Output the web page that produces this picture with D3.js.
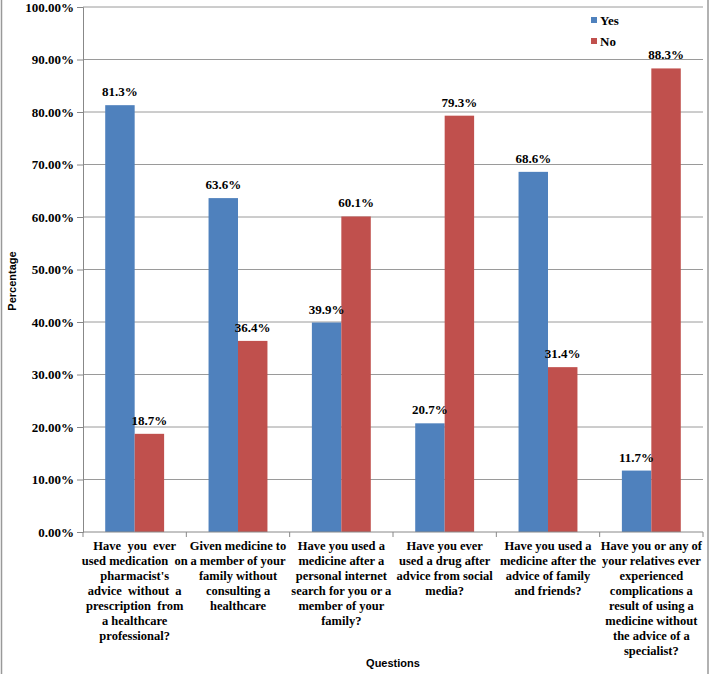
<!DOCTYPE html>
<html><head><meta charset="utf-8">
<script src="https://cdn.jsdelivr.net/npm/d3@7/dist/d3.min.js"></script>
<style>body{margin:0;background:#fff}svg{display:block}
.srf{font-family:"Liberation Serif","Times New Roman","DejaVu Serif",serif;font-weight:bold}
.sns{font-family:"Liberation Sans",Arial,sans-serif;font-weight:bold}
</style>
</head><body>
<svg id="c" width="711" height="674"></svg>
<script>
const categories = [
  ["Have  you  ever", "used medication  on", "pharmacist's", "advice  without  a", "prescription  from", "a healthcare", "professional?"],
  ["Given medicine to", "a member of your", "family without", "consulting a", "healthcare"],
  ["Have you used a", "medicine after a", "personal internet", "search for you or a", "member of your", "family?"],
  ["Have you ever", "used a drug after", "advice from social", "media?"],
  ["Have you used a", "medicine after the", "advice of family", "and friends?"],
  ["Have you or any of", "your relatives ever", "experienced", "complications a", "result of using a", "medicine without", "the advice of a", "specialist?"]
];
const seriesNames = ["Yes", "No"];
const yesValues = [81.3, 63.6, 39.9, 20.7, 68.6, 11.7];
const noValues = [18.7, 36.4, 60.1, 79.3, 31.4, 88.3];
const yTicks = [0, 10, 20, 30, 40, 50, 60, 70, 80, 90, 100];
const colors = ["#4F81BD", "#C0504D"];

const svg = d3.select("#c");
const L = 83, R = 703, T = 7, B = 532;

// outer frame (left/right)
svg.append("line").attr("x1",1.5).attr("x2",1.5).attr("y1",0).attr("y2",674).attr("stroke","#999").attr("stroke-width",1.5);
svg.append("line").attr("x1",708).attr("x2",708).attr("y1",0).attr("y2",674).attr("stroke","#999").attr("stroke-width",1.5);

const idx = d3.range(categories.length);
const x0 = d3.scaleBand().domain(idx).range([L, R]).paddingInner(0.43).paddingOuter(0.215);
const x1 = d3.scaleBand().domain([0,1]).range([0, x0.bandwidth()]);
const y = d3.scaleLinear().domain([0, 100]).range([B, T]);

// gridlines
svg.append("g").selectAll("line").data(yTicks.slice(1)).join("line")
  .attr("x1", L).attr("x2", R).attr("y1", d=>y(d)).attr("y2", d=>y(d))
  .attr("stroke", "#9a9a9a").attr("stroke-width", 1);

// y axis
const yAxis = svg.append("g").attr("transform", `translate(${L},0)`)
  .call(d3.axisLeft(y).tickValues(yTicks).tickSize(6).tickFormat(d => d.toFixed(2) + "%"));
yAxis.attr("font-family", null).attr("font-size", null);
yAxis.select(".domain").attr("stroke", "#888");
yAxis.selectAll(".tick line").attr("stroke", "#888");
yAxis.selectAll("text").attr("class", "srf").style("font-size", "13px").attr("fill", "#000").attr("x", -9);

// bars
const data = idx.map(i => [yesValues[i], noValues[i]]);
const groups = svg.append("g").selectAll("g").data(data).join("g")
  .attr("transform", (d,i) => `translate(${x0(i)},0)`);
groups.selectAll("rect").data(d => d).join("rect")
  .attr("x", (d,j) => x1(j)).attr("width", x1.bandwidth())
  .attr("y", d => y(d)).attr("height", d => B - y(d))
  .attr("fill", (d,j) => colors[j]);
groups.selectAll("text").data(d => d).join("text")
  .attr("class", "srf").style("font-size", "13px")
  .attr("x", (d,j) => x1(j) + x1.bandwidth()/2).attr("y", d => y(d) - 9)
  .attr("text-anchor", "middle")
  .text(d => d.toFixed(1) + "%");

// x axis
const xAxisScale = d3.scaleBand().domain(idx).range([L, R]);
svg.append("line").attr("x1", L).attr("x2", R).attr("y1", B).attr("y2", B).attr("stroke", "#888");
svg.append("g").selectAll("line").data(d3.range(categories.length + 1)).join("line")
  .attr("x1", i => L + i * xAxisScale.step()).attr("x2", i => L + i * xAxisScale.step())
  .attr("y1", B).attr("y2", B + 5).attr("stroke", "#888");

const labels = svg.append("g").selectAll("text").data(categories).join("text")
  .attr("class", "srf").style("font-size", "12.5px").attr("text-anchor", "middle")
  .attr("transform", (d,i) => `translate(${xAxisScale(i) + xAxisScale.bandwidth()/2},${B + 18})`);
labels.selectAll("tspan").data(d => d).join("tspan")
  .attr("x", 0).attr("dy", (d,k) => k === 0 ? 0 : 15).style("white-space","pre").text(d => d);

// axis titles
svg.append("text").attr("class", "sns").style("font-size", "11px").attr("x", 393).attr("y", 667).attr("text-anchor", "middle").text("Questions");
svg.append("text").attr("class", "sns").style("font-size", "11px").attr("transform", "translate(15.5,281) rotate(-90)").attr("text-anchor", "middle").text("Percentage");

// legend
const lg = svg.append("g").selectAll("g").data(seriesNames).join("g")
  .attr("transform", (d,i) => `translate(591,${21 + i*21})`);
lg.append("rect").attr("x", 0).attr("y", -4).attr("width", 6).attr("height", 6).attr("fill", (d,i) => colors[i]);
lg.append("text").attr("class", "srf").style("font-size", "13px").attr("x", 9).attr("y", 3.5).text(d => d);
</script>
</body></html>
